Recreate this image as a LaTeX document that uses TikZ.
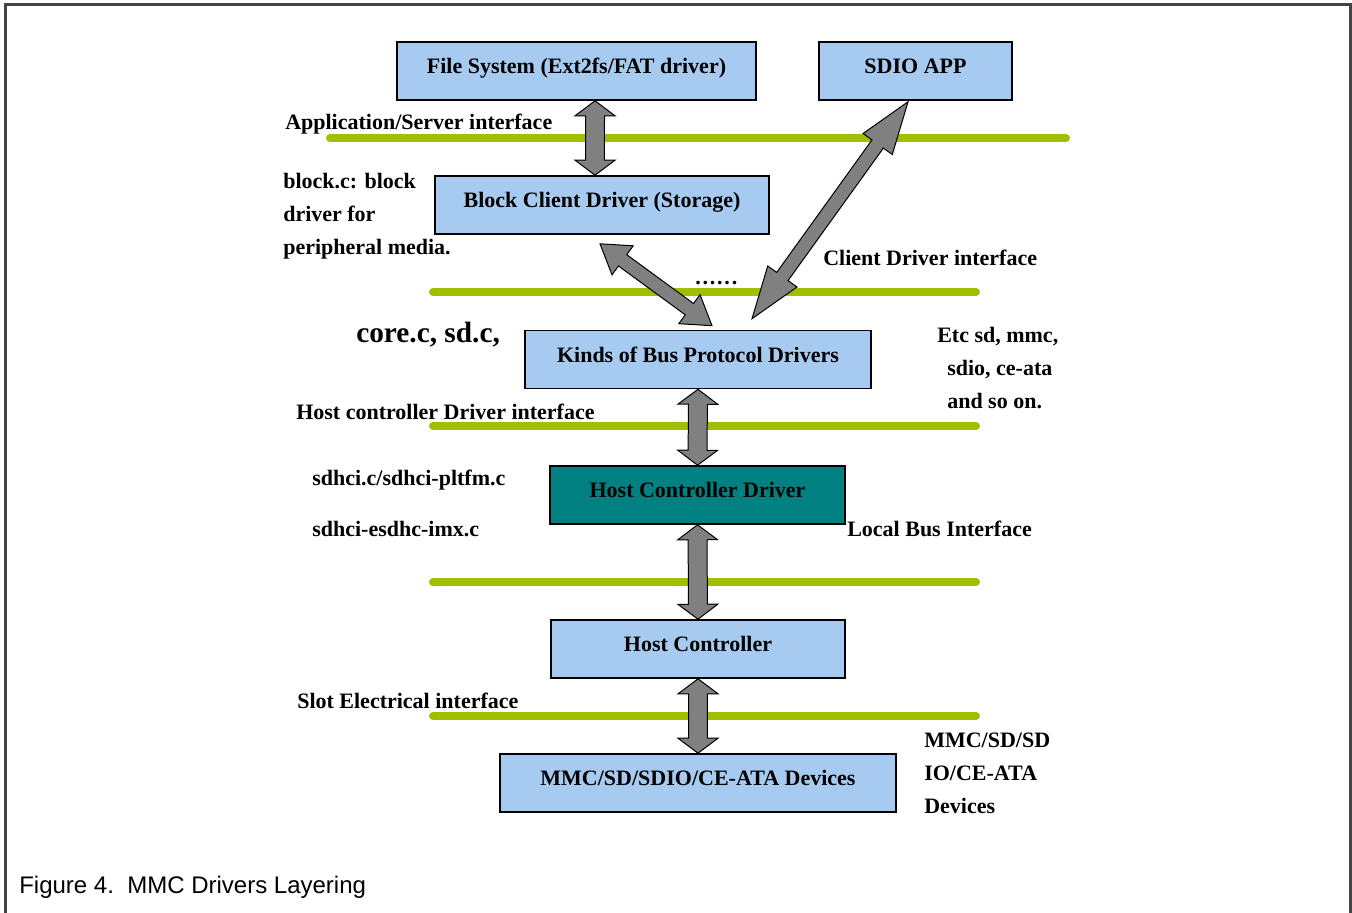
\documentclass[tikz,border=0pt]{standalone}
\usepackage{fontspec}
\setmainfont{Liberation Serif}
\setsansfont{Liberation Sans}
\usetikzlibrary{calc}
\definecolor{boxblue}{RGB}{166,202,240}
\definecolor{hcdteal}{RGB}{0,128,128}
\definecolor{ifgreen}{RGB}{158,192,0}
\definecolor{arrowgray}{RGB}{128,128,128}
\definecolor{framegray}{RGB}{68,68,68}

\begin{document}
\begin{tikzpicture}[
        x=0.75pt, y=-0.75pt,
        layer/.style={rectangle, draw, line width=1.2pt, fill=boxblue, minimum height=43.5pt, text height=12pt, text depth=8.25pt, font=\bfseries\fontsize{16.5}{20}\selectfont},
        note/.style={inner sep=0pt, anchor=base west, font=\bfseries\fontsize{16.5}{24.75}\selectfont},
        iface/.style={ifgreen, line width=6pt, line cap=round},
        frame/.style={framegray, line width=2.25pt},
        dblarrow/.style n args={3}{fill=arrowgray, draw=black, line width=0.75pt, line join=miter, to path={
            -- ($(\tikztostart)!#1!(\tikztotarget)!#2!90:(\tikztotarget)$)
            -- ($(\tikztostart)!#1!(\tikztotarget)!#3!90:(\tikztotarget)$)
            -- ($(\tikztotarget)!#1!(\tikztostart)!#3!-90:(\tikztostart)$)
            -- ($(\tikztotarget)!#1!(\tikztostart)!#2!-90:(\tikztostart)$)
            -- (\tikztotarget)
            -- ($(\tikztotarget)!#1!(\tikztostart)!#2!90:(\tikztostart)$)
            -- ($(\tikztotarget)!#1!(\tikztostart)!#3!90:(\tikztostart)$)
            -- ($(\tikztostart)!#1!(\tikztotarget)!#3!-90:(\tikztotarget)$)
            -- ($(\tikztostart)!#1!(\tikztotarget)!#2!-90:(\tikztotarget)$)
            -- cycle}}
    ]
        \useasboundingbox (0,0) rectangle (1352,913);
        \draw[frame] (5,913) -- (5,4.5) -- (1350,4.5) -- (1350,913);

        % interface lines
        \draw[iface] (330,138) -- (1066,138);
        \foreach \y in {292,426,582,716}
            \draw[iface] (433,\y) -- (976,\y);

        % layers
        \node[layer, minimum width=269.25pt] (fs) at (576.5,71) {File System (Ext2fs/FAT driver)};
        \node[layer, minimum width=144.75pt] (sdio) at (915.5,71) {SDIO APP};
        \node[layer, minimum width=250.5pt] (blk) at (602,205) {Block Client Driver (Storage)};
        \node[layer, minimum width=259.5pt] (kinds) at (698,359.5) {Kinds of Bus Protocol Drivers};
        \node[layer, minimum width=221.25pt, fill=hcdteal] (hcd) at (697.5,495) {Host Controller Driver};
        \node[layer, minimum width=220.5pt] (hc) at (698,649) {Host Controller};
        \node[layer, minimum width=297pt] (dev) at (698,783) {MMC/SD/SDIO/CE-ATA Devices};

        % arrows
        \draw[dblarrow={11.25pt}{15pt}{7.1pt}] ([xshift=13.9pt]fs.south) to ([xshift=-5.25pt]blk.north);
        \draw[dblarrow={21pt}{13.5pt}{5.25pt}] ([xshift=-1.5pt,yshift=-6.75pt]blk.south) to ([xshift=10.5pt,yshift=3pt]kinds.north);
        \draw[dblarrow={39pt}{13.5pt}{5.25pt}] ([xshift=-5.6pt,yshift=-0.75pt]sdio.south) to ([xshift=40.5pt,yshift=8.25pt]kinds.north);
        \draw[dblarrow={11.25pt}{15pt}{7.1pt}] (kinds.south) to (hcd.north);
        \draw[dblarrow={11.25pt}{15pt}{7.1pt}] (hcd.south) to (hc.north);
        \draw[dblarrow={11.25pt}{15pt}{7.1pt}] (hc.south) to (dev.north);

        % labels
        \node[note] (appif) at (285,130) {Application/Server interface};
        \node[note, anchor=north west, align=left] (blkc) at (283,173) {block.c: block\\driver for\\peripheral media.};
        \node[note] (cdif) at (823,265) {Client Driver interface};
        \node[note] (dots) at (695,284) {.\kern1.35pt.\kern1.35pt.\kern1.35pt.\kern1.35pt.\kern1.35pt.};
        \node[note, font=\bfseries\fontsize{22}{26}\selectfont] (core) at (356,342) {core.c, sd.c,};
        \node[note, anchor=north west, align=left] (etc) at (937,327) {Etc sd, mmc,\\\hspace*{7.5pt}sdio, ce-ata\\\hspace*{7.5pt}and so on.};
        \node[note] (hcdif) at (296,419) {Host controller Driver interface};
        \node[note] (pltfm) at (312,485) {sdhci.c/sdhci-pltfm.c};
        \node[note] (imx) at (312,536) {sdhci-esdhc-imx.c};
        \node[note] (lbif) at (847,536) {Local Bus Interface};
        \node[note] (slotif) at (297,708) {Slot Electrical interface};
        \node[note, anchor=north west, align=left] (devs) at (924,733) {MMC/SD/SD\\IO/CE-ATA\\Devices};
        \node[note, font=\sffamily\fontsize{18}{22}\selectfont] (caption) at (19,893) {Figure 4.\ \ MMC Drivers Layering};
    \end{tikzpicture}
\end{document}
